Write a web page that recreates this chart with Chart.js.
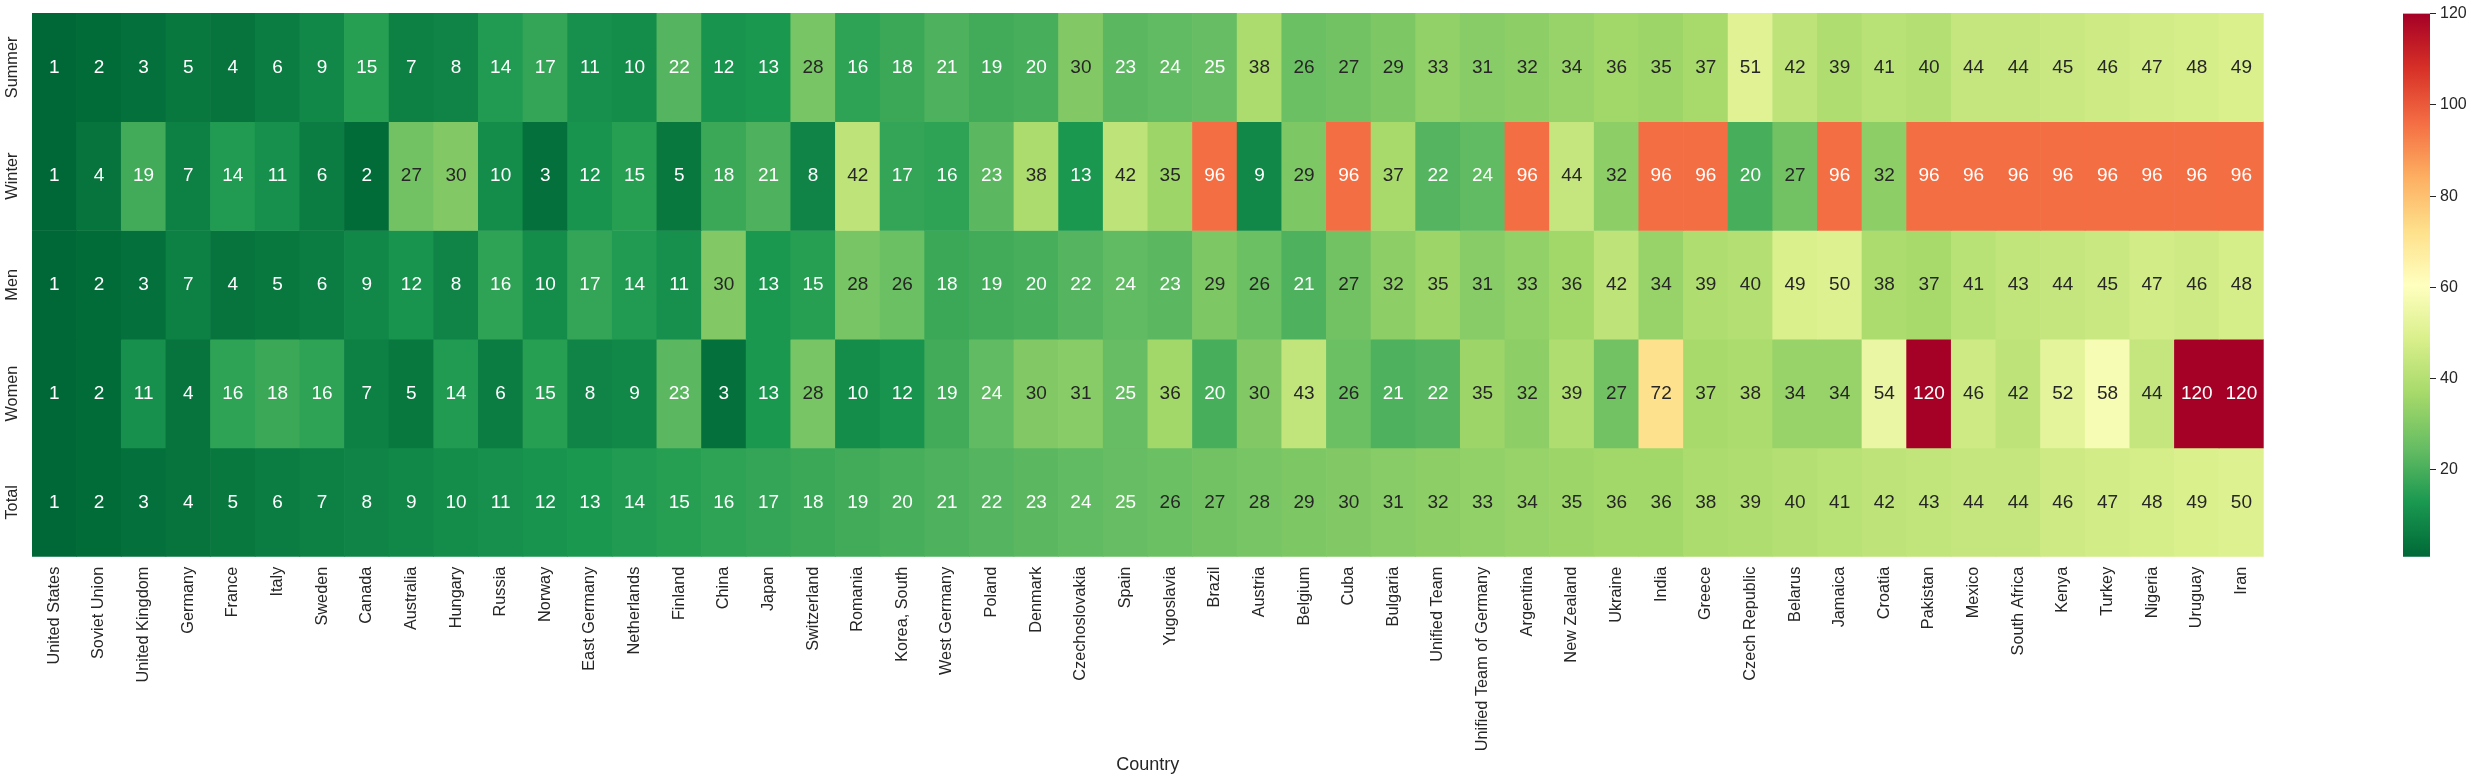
<!DOCTYPE html>
<html>
<head>
<meta charset="utf-8">
<script src="https://cdn.jsdelivr.net/npm/chart.js@4.4.1/dist/chart.umd.min.js"></script>
<style>
  html, body { margin: 0; padding: 0; background: #fff; }
  #wrap { position: relative; width: 2474px; height: 783px; }
  #heat { position: absolute; left: 0; top: 0; width: 2474px; height: 783px; }
  #bar { position: absolute; left: 2380px; top: 0; width: 94px; height: 783px; }
</style>
</head>
<body>
<div id="wrap">
  <div id="heat"><canvas id="heatmap"></canvas></div>
  <div id="bar"><canvas id="colorbar"></canvas></div>
</div>
<script>
// medal table ranks per country
const countries = ['United States', 'Soviet Union', 'United Kingdom', 'Germany', 'France', 'Italy', 'Sweden',
  'Canada', 'Australia', 'Hungary', 'Russia', 'Norway', 'East Germany', 'Netherlands', 'Finland', 'China',
  'Japan', 'Switzerland', 'Romania', 'Korea, South', 'West Germany', 'Poland', 'Denmark', 'Czechoslovakia',
  'Spain', 'Yugoslavia', 'Brazil', 'Austria', 'Belgium', 'Cuba', 'Bulgaria', 'Unified Team',
  'Unified Team of Germany', 'Argentina', 'New Zealand', 'Ukraine', 'India', 'Greece', 'Czech Republic',
  'Belarus', 'Jamaica', 'Croatia', 'Pakistan', 'Mexico', 'South Africa', 'Kenya', 'Turkey', 'Nigeria',
  'Uruguay', 'Iran'];
const rows = ['Summer', 'Winter', 'Men', 'Women', 'Total'];

const summer = [1, 2, 3, 5, 4, 6, 9, 15, 7, 8, 14, 17, 11, 10, 22, 12, 13, 28, 16, 18, 21, 19, 20, 30, 23,
  24, 25, 38, 26, 27, 29, 33, 31, 32, 34, 36, 35, 37, 51, 42, 39, 41, 40, 44, 44, 45, 46, 47, 48, 49];
const winter = [1, 4, 19, 7, 14, 11, 6, 2, 27, 30, 10, 3, 12, 15, 5, 18, 21, 8, 42, 17, 16, 23, 38, 13, 42,
  35, 96, 9, 29, 96, 37, 22, 24, 96, 44, 32, 96, 96, 20, 27, 96, 32, 96, 96, 96, 96, 96, 96, 96, 96];
const men = [1, 2, 3, 7, 4, 5, 6, 9, 12, 8, 16, 10, 17, 14, 11, 30, 13, 15, 28, 26, 18, 19, 20, 22, 24,
  23, 29, 26, 21, 27, 32, 35, 31, 33, 36, 42, 34, 39, 40, 49, 50, 38, 37, 41, 43, 44, 45, 47, 46, 48];
const women = [1, 2, 11, 4, 16, 18, 16, 7, 5, 14, 6, 15, 8, 9, 23, 3, 13, 28, 10, 12, 19, 24, 30, 31, 25,
  36, 20, 30, 43, 26, 21, 22, 35, 32, 39, 27, 72, 37, 38, 34, 34, 54, 120, 46, 42, 52, 58, 44, 120, 120];
const total = [1, 2, 3, 4, 5, 6, 7, 8, 9, 10, 11, 12, 13, 14, 15, 16, 17, 18, 19, 20, 21, 22, 23, 24, 25,
  26, 27, 28, 29, 30, 31, 32, 33, 34, 35, 36, 36, 38, 39, 40, 41, 42, 43, 44, 44, 46, 47, 48, 49, 50];

const colorTicks = [20, 40, 60, 80, 100, 120];
const vmin = 1, vmax = 120;

const FONT = '"Liberation Sans", Arial, Helvetica, sans-serif';
const INK = '#262626';

// RdYlGn, used reversed (low = green, high = red)
const rdylgn = ['#a50026', '#d73027', '#f46d43', '#fdae61', '#fee08b', '#ffffbf',
  '#d9ef8b', '#a6d96a', '#66bd63', '#1a9850', '#006837'];

function hexRgb(h) {
  return [parseInt(h.substr(1, 2), 16), parseInt(h.substr(3, 2), 16), parseInt(h.substr(5, 2), 16)];
}
function cmapRgb(v) {
  let t = 1 - (v - vmin) / (vmax - vmin);
  t = Math.min(1, Math.max(0, t)) * 10;
  const i = Math.min(9, Math.floor(t)), f = t - i;
  const a = hexRgb(rdylgn[i]), b = hexRgb(rdylgn[i + 1]);
  return a.map((c, k) => Math.round(c + (b[k] - c) * f));
}
function cmap(v) {
  const c = cmapRgb(v);
  return 'rgb(' + c.join(',') + ')';
}
function textColor(v) {
  const lin = cmapRgb(v).map(c => {
    c = c / 255;
    return c <= 0.03928 ? c / 12.92 : Math.pow((c + 0.055) / 1.055, 2.4);
  });
  const lum = 0.2126 * lin[0] + 0.7152 * lin[1] + 0.0722 * lin[2];
  return lum > 0.408 ? INK : '#ffffff';
}

const series = [summer, winter, men, women, total];

const cellLabels = {
  id: 'cellLabels',
  afterDatasetsDraw(chart) {
    const ctx = chart.ctx;
    ctx.save();
    ctx.font = '19px ' + FONT;
    ctx.textAlign = 'center';
    ctx.textBaseline = 'middle';
    chart.data.datasets.forEach((ds, r) => {
      chart.getDatasetMeta(r).data.forEach((bar, i) => {
        const v = series[r][i];
        ctx.fillStyle = textColor(v);
        ctx.fillText(String(v), bar.x, (bar.y + bar.base) / 2);
      });
    });
    ctx.restore();
  }
};

new Chart(document.getElementById('heatmap'), {
  type: 'bar',
  data: {
    labels: countries,
    datasets: series.map((vals, r) => ({
      label: rows[r],
      data: vals.map(() => [r - 0.5, r + 0.5]),
      backgroundColor: vals.map(cmap),
      borderWidth: 0,
      grouped: false,
      barPercentage: 1,
      categoryPercentage: 1
    }))
  },
  options: {
    responsive: true,
    maintainAspectRatio: false,
    animation: false,
    devicePixelRatio: 1,
    layout: { padding: { top: 13, right: 210.3, left: 0, bottom: 0 } },
    plugins: { legend: { display: false }, tooltip: { enabled: false } },
    scales: {
      x: {
        type: 'category',
        grid: { display: false, drawTicks: false },
        border: { display: false },
        ticks: {
          autoSkip: false, minRotation: 90, maxRotation: 90, padding: 10,
          color: INK, font: { family: FONT, size: 16.3 }
        },
        title: {
          display: true, text: 'Country', color: INK,
          font: { family: FONT, size: 18 }, padding: { top: 0, bottom: 7 }
        },
        afterFit(s) { s.height = 226.3; }
      },
      y: {
        type: 'linear',
        min: -0.5,
        max: 4.5,
        reverse: true,
        grid: { display: false, drawTicks: false },
        border: { display: false },
        afterBuildTicks(s) { s.ticks = rows.map((_, i) => ({ value: i })); },
        ticks: {
          callback: v => rows[v],
          minRotation: 90, maxRotation: 90,
          crossAlign: 'center', padding: -11.5,
          color: INK, font: { family: FONT, size: 16.3 }
        },
        afterFit(s) { s.width = 32; }
      }
    }
  },
  plugins: [cellLabels]
});

new Chart(document.getElementById('colorbar'), {
  type: 'bar',
  data: {
    labels: ['scale'],
    datasets: [{
      data: [[vmin, vmax]],
      borderWidth: 0,
      barPercentage: 1,
      categoryPercentage: 1,
      backgroundColor(c) {
        const ch = c.chart;
        if (!ch.chartArea) return null;
        const ys = ch.scales.y;
        const g = ch.ctx.createLinearGradient(0, ys.getPixelForValue(vmin), 0, ys.getPixelForValue(vmax));
        for (let k = 0; k <= 10; k++) {
          g.addColorStop(k / 10, cmap(vmin + (vmax - vmin) * k / 10));
        }
        return g;
      }
    }]
  },
  options: {
    responsive: true,
    maintainAspectRatio: false,
    animation: false,
    devicePixelRatio: 1,
    layout: { padding: { top: 13, left: 23, right: 0, bottom: 226.3 } },
    plugins: { legend: { display: false }, tooltip: { enabled: false } },
    scales: {
      x: { display: false },
      y: {
        type: 'linear',
        position: 'right',
        min: vmin,
        max: vmax,
        afterBuildTicks(s) { s.ticks = colorTicks.map(v => ({ value: v })); },
        grid: { display: true, drawOnChartArea: false, drawTicks: true, tickLength: 6, color: INK },
        border: { display: false },
        ticks: { padding: 4, color: INK, font: { family: FONT, size: 16 } },
        afterFit(s) { s.width = 44; }
      }
    }
  }
});
</script>
</body>
</html>
